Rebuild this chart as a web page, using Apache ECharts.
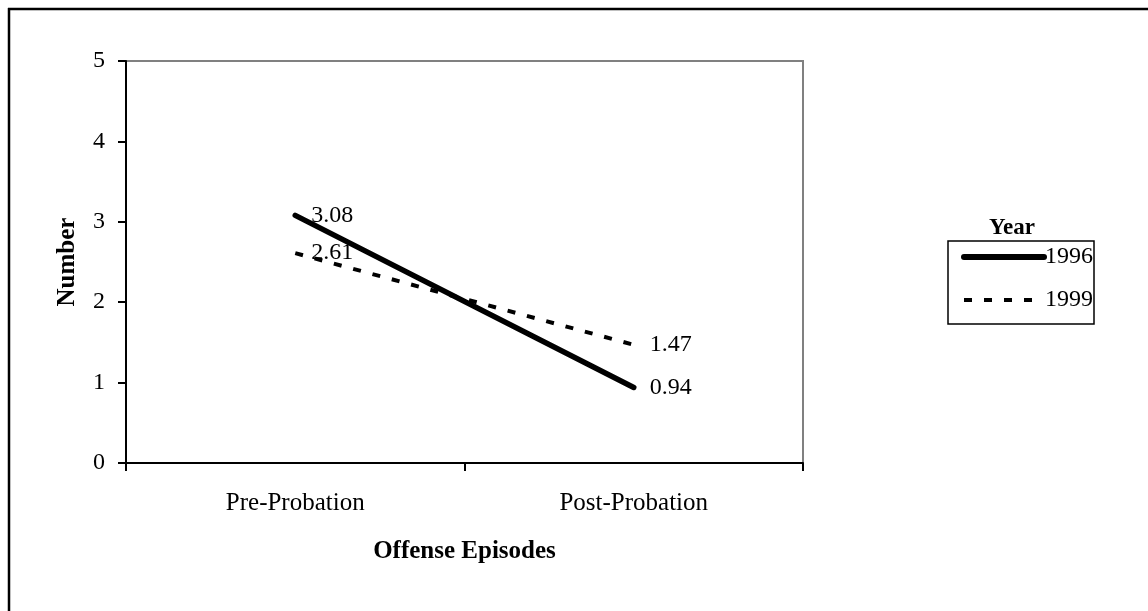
<!DOCTYPE html>
<html>
<head>
<meta charset="utf-8">
<script src="https://cdn.jsdelivr.net/npm/echarts@6/dist/echarts.min.js"></script>
<style>
  html, body { margin: 0; padding: 0; background: #fff; }
  #chart { width: 1148px; height: 611px; }
</style>
</head>
<body>
<div id="chart"></div>
<script>
// Offense episodes before and after probation, by cohort year
const categories = ['Pre-Probation', 'Post-Probation'];
const series1996 = [3.08, 0.94];
const series1999 = [2.61, 1.47];
const yTicks = { min: 0, max: 5, interval: 1 };

const FONT = 'Liberation Serif, Times New Roman, serif';

const chart = echarts.init(document.getElementById('chart'));

const labelStyle = {
  show: true,
  position: 'right',
  distance: 16,
  color: '#000',
  opacity: 1,
  fontFamily: FONT,
  fontSize: 24
};

// invisible point markers that carry the value labels
function valueLabels(name, values) {
  return {
    name: name,
    type: 'scatter',
    data: values,
    symbolSize: 0,
    itemStyle: { color: 'transparent', opacity: 1 },
    label: labelStyle,
    silent: true,
    z: 5
  };
}

chart.setOption({
  backgroundColor: '#fff',
  animation: false,
  grid: {
    left: 126, right: 345, top: 61, bottom: 148,
    show: true, borderColor: '#808080', borderWidth: 2, backgroundColor: 'transparent'
  },
  legend: {
    orient: 'vertical',
    left: 956, top: 240,
    itemWidth: 80, itemHeight: 14, itemGap: 19,
    itemStyle: { color: 'transparent', borderColor: 'transparent', borderWidth: 0 },
    textStyle: { color: '#000', fontFamily: FONT, fontSize: 24, padding: [10, 0, 0, -4] },
    data: [
      { name: '1996', lineStyle: { width: 6 } },
      { name: '1999', lineStyle: { width: 4 } }
    ]
  },
  xAxis: {
    type: 'category',
    data: categories,
    boundaryGap: true,
    name: 'Offense Episodes',
    nameLocation: 'middle',
    nameGap: 76,
    nameTextStyle: { color: '#000', fontFamily: FONT, fontSize: 25, fontWeight: 'bold' },
    axisLine: { lineStyle: { color: '#000', width: 2 } },
    axisTick: { show: true, length: 8, lineStyle: { color: '#000', width: 2 } },
    axisLabel: { color: '#000', fontFamily: FONT, fontSize: 25, margin: 28 },
    splitLine: { show: false }
  },
  yAxis: {
    type: 'value',
    min: yTicks.min, max: yTicks.max, interval: yTicks.interval,
    name: 'Number',
    nameLocation: 'middle',
    nameRotate: 90,
    nameGap: 46,
    nameTextStyle: { color: '#000', fontFamily: FONT, fontSize: 25, fontWeight: 'bold' },
    axisLine: { show: true, lineStyle: { color: '#000', width: 2 } },
    axisTick: { show: true, length: 8, lineStyle: { color: '#000', width: 2 } },
    axisLabel: { color: '#000', fontFamily: FONT, fontSize: 24, margin: 21 },
    splitLine: { show: false }
  },
  series: [
    {
      name: '1996',
      type: 'line',
      data: series1996,
      symbol: 'none',
      lineStyle: { color: '#000', width: 5.5, cap: 'round' },
      itemStyle: { color: '#000' },
      z: 3
    },
    {
      name: '1999',
      type: 'line',
      data: series1999,
      symbol: 'none',
      lineStyle: { color: '#000', width: 4, type: [8, 12] },
      itemStyle: { color: '#000' },
      z: 2
    },
    valueLabels('1996 values', series1996),
    valueLabels('1999 values', series1999)
  ],
  graphic: [
    // outer frame (top and left edges)
    { type: 'line', shape: { x1: 8, y1: 9, x2: 1148, y2: 9 }, style: { stroke: '#000', lineWidth: 2.5 } },
    { type: 'line', shape: { x1: 9, y1: 8, x2: 9, y2: 611 }, style: { stroke: '#000', lineWidth: 2.5 } },
    // legend box and title
    { type: 'rect', shape: { x: 948, y: 241, width: 146, height: 83 }, style: { fill: 'none', stroke: '#000', lineWidth: 1.5 }, z: 10 },
    { type: 'text', x: 1012, y: 228, style: { text: 'Year', fill: '#000', font: 'bold 23px ' + FONT, align: 'center', verticalAlign: 'middle' }, z: 10 }
  ]
});
</script>
</body>
</html>
